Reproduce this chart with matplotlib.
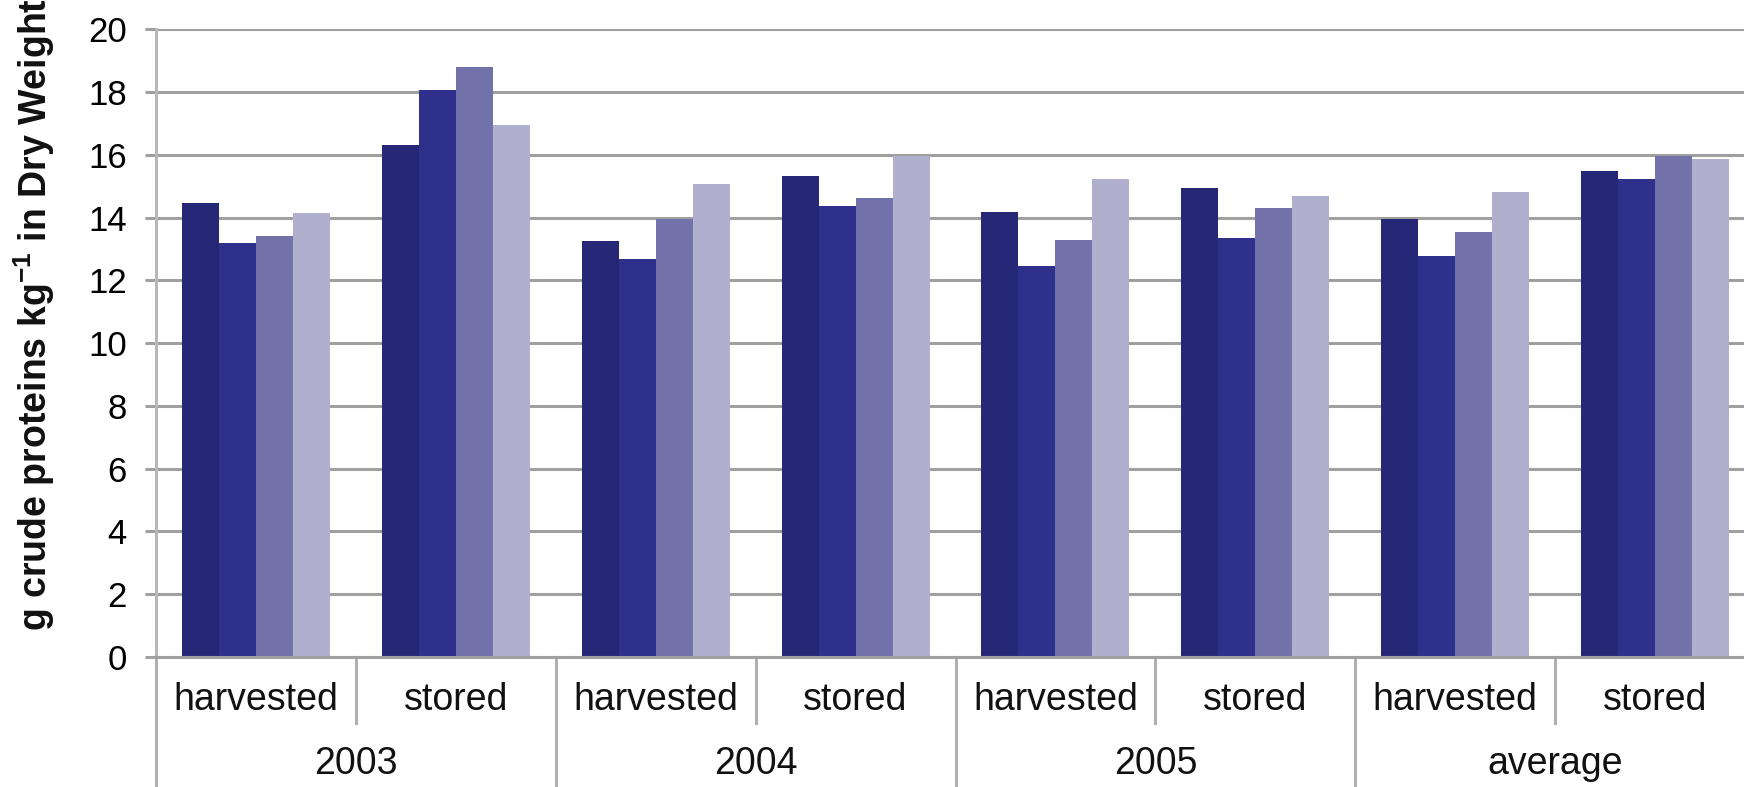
import numpy as np
import matplotlib
matplotlib.use("Agg")
import matplotlib.pyplot as plt
import matplotlib.transforms as mtransforms

plt.rcParams['font.family'] = ['Liberation Sans', 'DejaVu Sans']

# crude protein content, four series per storage state
stages = ['harvested', 'stored'] * 4
years = ['2003', '2004', '2005', 'average']
series_1 = [14.46, 16.30, 13.24, 15.32, 14.17, 14.95, 13.97, 15.48]
series_2 = [13.20, 18.06, 12.67, 14.38, 12.47, 13.36, 12.78, 15.24]
series_3 = [13.40, 18.79, 13.97, 14.63, 13.28, 14.30, 13.53, 15.95]
series_4 = [14.14, 16.94, 15.08, 15.95, 15.24, 14.70, 14.82, 15.88]
colors = ['#262777', '#2f2f8c', '#7272aa', '#b0b0ce']

W, H = 1744, 787
fig = plt.figure(figsize=(W / 100, H / 100), dpi=100)
ax = fig.add_axes([156 / W, 130 / H, 1599 / W, 627.7 / H])

x = np.arange(len(stages))
bw = 0.185
for k, (vals, c) in enumerate(zip([series_1, series_2, series_3, series_4], colors)):
    ax.bar(x + (k - 1.5) * bw, vals, width=bw, color=c, linewidth=0, zorder=2)

ax.set_xlim(-0.5, len(stages) - 0.5)
ax.set_ylim(0, 20)
ax.set_yticks(np.arange(0, 21, 2))
ax.yaxis.grid(True, color='#a0a0a0', linewidth=2.2)
ax.set_axisbelow(True)
ax.tick_params(axis='y', length=8, width=2.2, color='#a0a0a0',
               labelsize=25, pad=13)
ax.set_xticks([])

for side in ['top', 'right']:
    ax.spines[side].set_visible(False)
ax.spines['left'].set_color('#b8b8b8')
ax.spines['left'].set_linewidth(2.2)
ax.spines['bottom'].set_color('#a0a0a0')
ax.spines['bottom'].set_linewidth(2.2)

# two-level category axis below the plot
trans = mtransforms.blended_transform_factory(ax.transData, ax.transAxes)
for i, s in enumerate(stages):
    ax.text(i, -0.068, s, transform=trans, ha='center', va='center',
            fontsize=27, color='#111111')
for j, y in enumerate(years):
    ax.text(2 * j + 0.5, -0.17, y, transform=trans, ha='center', va='center',
            fontsize=27, color='#111111')
for j in range(len(years)):
    ax.plot([2 * j + 0.5] * 2, [0, -0.105], transform=trans, color='#b0b0b0',
            linewidth=2.2, clip_on=False)
    ax.plot([2 * j - 0.5] * 2, [0, -0.21], transform=trans, color='#b0b0b0',
            linewidth=2.2, clip_on=False)

fig.text(34 / W, 1 - 315 / H, 'g crude proteins kg$^{\\mathregular{-1}}$ in Dry Weight',
         rotation=90, ha='center', va='center', fontsize=27, fontweight='bold',
         color='#111111')

fig.savefig('out.png', dpi=100)
